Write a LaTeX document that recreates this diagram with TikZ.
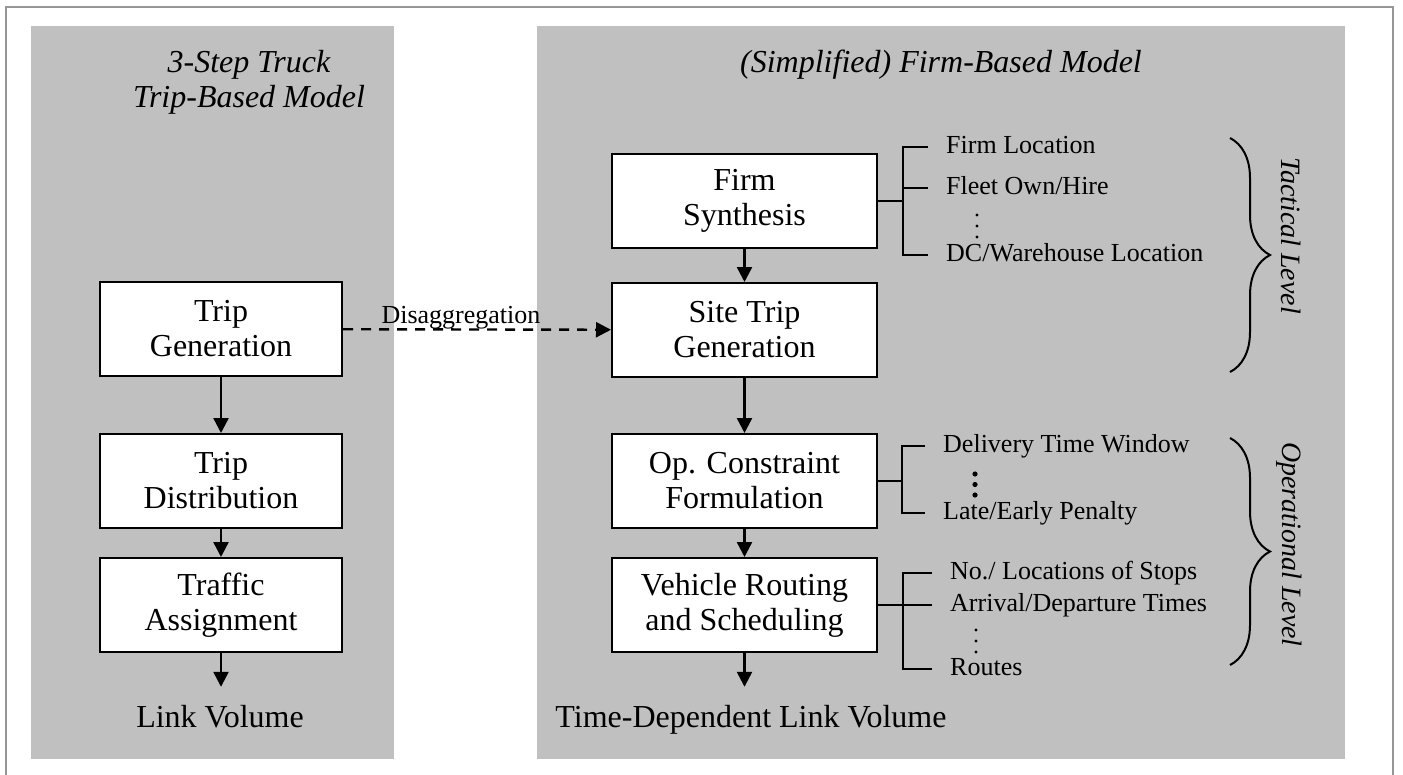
\documentclass[tikz,border=0pt]{standalone}
\usepackage{fontspec}
\setmainfont{Liberation Serif}
\usetikzlibrary{arrows.meta,decorations.pathreplacing}
\definecolor{panelgray}{RGB}{192,192,192}
\definecolor{framegray}{RGB}{150,150,150}

\begin{document}
\begin{tikzpicture}[x=1pt,y=-1pt,
  stepbox/.style={draw,fill=white,line width=2pt,minimum height=94pt,inner sep=0pt,
    align=center,font=\fontsize{32}{35}\selectfont},
  leftbox/.style={stepbox,minimum width=242pt},
  rightbox/.style={stepbox,minimum width=265pt},
  flow/.style={line width=2.4pt,-{Triangle[length=15pt,width=15pt]}},
  fork/.style={line width=2pt},
  item/.style={anchor=west,inner xsep=18pt,inner ysep=0pt,text height=17pt,text depth=5pt,
    font=\fontsize{26}{28}\selectfont},
  heading/.style={align=center,font=\fontsize{32}{35}\selectfont\itshape},
  result/.style={anchor=base,inner xsep=0pt,inner ysep=18pt,text height=22pt,
    font=\fontsize{32}{35}\selectfont},
  level/.style={rotate=-90,anchor=west,inner sep=0pt,font=\fontsize{28}{30}\selectfont\itshape},
  levelbrace/.style={line width=2pt,decorate,decoration={brace,amplitude=40pt}}]
  \useasboundingbox (0,0) rectangle (1403,774);

  % frame and the two panels
  \draw[framegray,line width=2pt] (6,780) -- (6,7) -- (1393,7) -- (1393,780);
  \fill[panelgray] (31,26) rectangle (394,759);
  \fill[panelgray] (537,26) rectangle (1345,759);

  \node[heading] (triphead) at (249,82) {3-Step Truck\\Trip-Based Model};
  \node[heading,anchor=base] (firmhead) at (941,72) {(Simplified) Firm-Based Model};

  % trip-based model
  \node[leftbox] (tripgen) at (221,329) {Trip\\Generation};
  \node[leftbox] (tripdist) at (221,481) {Trip\\Distribution};
  \node[leftbox] (trafassign) at (221,605) {Traffic\\Assignment};
  \node[result] (linkvol) at (220,727) {Link Volume};

  \draw[flow] (tripgen) -- (tripdist);
  \draw[flow] (tripdist) -- (trafassign);
  \draw[flow] (trafassign.south) -- (trafassign.south |- linkvol.north);

  % firm-based model
  \node[rightbox] (firmsyn) at (744.5,201) {Firm\\Synthesis};
  \node[rightbox] (sitetrip) at (744.5,330) {Site Trip\\Generation};
  \node[rightbox] (opcons) at (744.5,481) {Op. Constraint\\Formulation};
  \node[rightbox] (vrs) at (744.5,605) {Vehicle Routing\\and Scheduling};
  \node[result] (tdlinkvol) at (751,727) {Time-Dependent Link Volume};

  \draw[flow] (firmsyn) -- (sitetrip);
  \draw[flow] (sitetrip) -- (opcons);
  \draw[flow] (opcons) -- (vrs);
  \draw[flow] (vrs.south) -- (vrs.south |- tdlinkvol.north);

  \draw[flow,dashed,dash pattern=on 10pt off 8pt] (tripgen) --
    node[pos=0.44,above,inner sep=5pt,text depth=0pt,font=\fontsize{26}{28}\selectfont] (disagg) {Disaggregation}
    (sitetrip);

  % firm synthesis outputs
  \node[item] (firmloc) at (928,147) {Firm Location};
  \node[item] (fleet) at (928,188) {Fleet Own/Hire};
  \node[item] (dcloc) at (928,255) {DC/Warehouse Location};
  \foreach \y in {215,226,237} \fill (977,\y) circle (1.6pt);
  \draw[fork] (firmsyn.east) -- (903,201) coordinate (firmfork);
  \draw[fork] (firmloc.west) -| (firmfork) |- (dcloc.west);
  \draw[fork] (fleet.west) -- (fleet.west -| firmfork);

  % operational constraints
  \node[item] (window) at (925,446) {Delivery Time Window};
  \node[item] (penalty) at (925,513) {Late/Early Penalty};
  \foreach \y in {474,484.5,495} \fill (975,\y) circle (2.6pt);
  \draw[fork] (opcons.east) -- (902,481) coordinate (opfork);
  \draw[fork] (window.west) -| (opfork) |- (penalty.west);

  % routing outputs
  \node[item] (stops) at (932,573) {No./ Locations of Stops};
  \node[item] (times) at (932,605) {Arrival/Departure Times};
  \node[item] (routes) at (932,669) {Routes};
  \foreach \y in {630,641,652} \fill (976,\y) circle (1.6pt);
  \draw[fork] (vrs.east) -- (903,605) coordinate (vrsfork);
  \draw[fork] (stops.west) -| (vrsfork) |- (routes.west);
  \draw[fork] (times.west) -- (vrsfork);

  % decision levels
  \draw[levelbrace] (1230,138) -- (1230,372);
  \node[level] (tactical) at (1291,157) {Tactical Level};
  \draw[levelbrace] (1230,438) -- (1230,665);
  \node[level] (operational) at (1289,442) {Operational Level};
\end{tikzpicture}
\end{document}
